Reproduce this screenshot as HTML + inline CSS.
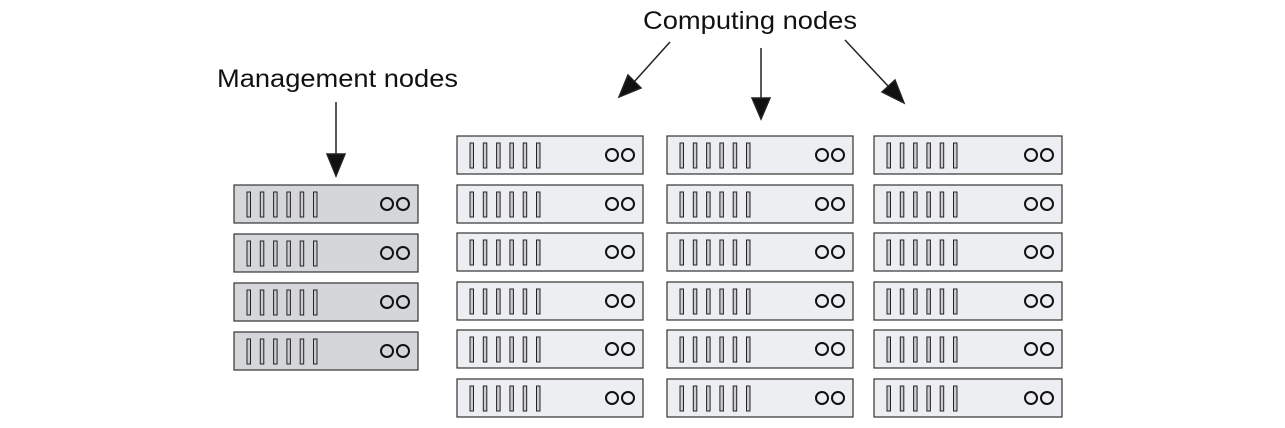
<!DOCTYPE html>
<html><head><meta charset="utf-8"><style>
html,body{margin:0;padding:0;background:#fff;width:1285px;height:428px;overflow:hidden}
svg{display:block}
text{font-family:"Liberation Sans",sans-serif;fill:#111}
</style></head><body>
<svg id="s" width="1285" height="428" xmlns="http://www.w3.org/2000/svg">
<text x="217" y="87" font-size="25" textLength="241" lengthAdjust="spacingAndGlyphs">Management nodes</text>
<text x="643" y="29" font-size="25" textLength="214" lengthAdjust="spacingAndGlyphs">Computing nodes</text>
<g stroke="#222" stroke-width="1.5" fill="#111">
<line x1="336" y1="102" x2="336" y2="156"/><polygon points="327,154 345,154 336,176"/>
<line x1="761" y1="48" x2="761" y2="100"/><polygon points="752,98 770,98 761,119"/>
<line x1="670" y1="42" x2="634" y2="82"/><polygon points="628,75 641,88 619,97"/>
<line x1="845" y1="40" x2="888" y2="86"/><polygon points="882,92 895,80 904,103"/>
</g>
<g id="g"></g>
</svg>
<script>
var g=document.getElementById('g'),h='';
function srv(x,y,w,f){
 h+='<rect x="'+x+'" y="'+y+'" width="'+w+'" height="38" fill="'+f+'" stroke="#333" stroke-width="1.2"/>';
 for(var i=0;i<6;i++)h+='<rect x="'+(x+13+i*13.3)+'" y="'+(y+7)+'" width="3.5" height="25" fill="#ccc" stroke="#222" stroke-width="1"/>';
 h+='<circle cx="'+(x+w-31)+'" cy="'+(y+19)+'" r="6" fill="none" stroke="#111" stroke-width="2"/>';
 h+='<circle cx="'+(x+w-15)+'" cy="'+(y+19)+'" r="6" fill="none" stroke="#111" stroke-width="2"/>';
}
[185,234,283,332].forEach(function(y){srv(234,y,184,'#d4d6da')});
var ys=[136,185,233,282,330,379];
[[457,186],[667,186],[874,188]].forEach(function(c){ys.forEach(function(y){srv(c[0],y,c[1],'#eceef1')})});
g.innerHTML=h;
</script>
</body></html>
